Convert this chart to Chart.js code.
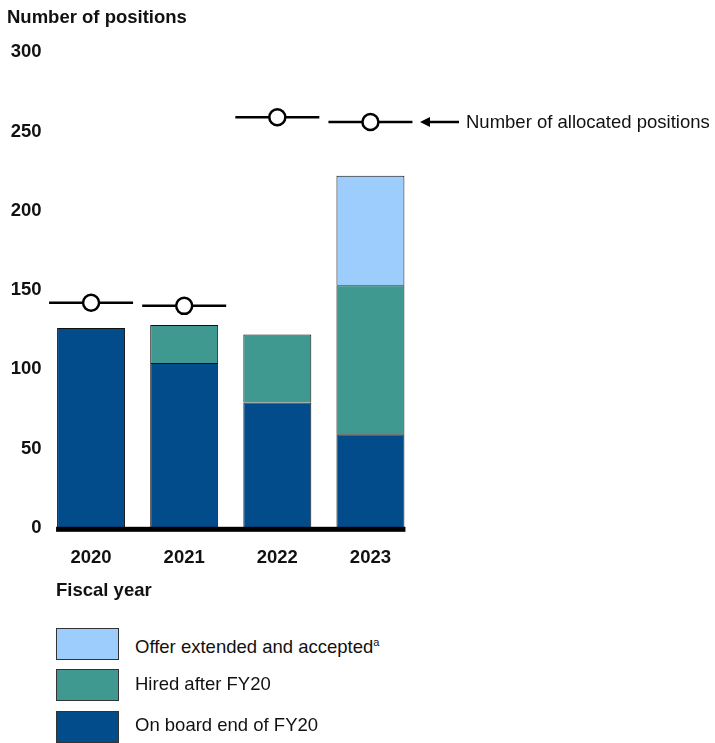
<!DOCTYPE html>
<html>
<head>
<meta charset="utf-8">
<script src="https://cdn.jsdelivr.net/npm/chart.js@4/dist/chart.umd.min.js"></script>
<style>
  body { margin: 0; background: #fff; font-family: "Liberation Sans", Arial, sans-serif; color: #111; }
  #wrap { position: relative; width: 715px; height: 743px; overflow: hidden; }
  #box { position: absolute; left: 0; top: 0; width: 715px; height: 588px; }
  .xtitle { position: absolute; left: 56px; top: 579px; font-weight: bold; font-size: 18.5px; }
  .leg { position: absolute; left: 56px; height: 32px; width: 63px; box-sizing: border-box; border: 1px solid #333; }
  .legtxt { position: absolute; left: 135px; font-size: 18.5px; line-height: 20px; }
  .legtxt sup { font-size: 11px; vertical-align: 7px; }
</style>
</head>
<body>
<div id="wrap">
  <div id="box"><canvas id="myChart"></canvas></div>
  <div class="xtitle">Fiscal year</div>
  <div class="leg" style="top:628px;background:#9ccdfc"></div>
  <div class="legtxt" style="top:632px">Offer extended and accepted<sup>a</sup></div>
  <div class="leg" style="top:669px;background:#3f9990"></div>
  <div class="legtxt" style="top:674px">Hired after FY20</div>
  <div class="leg" style="top:711px;background:#034c8c"></div>
  <div class="legtxt" style="top:715px">On board end of FY20</div>
</div>
<script>
// Data
var years = ['2020', '2021', '2022', '2023'];
var onBoard = [126, 104, 79, 59];
var hiredAfter = [0, 24, 43, 94];
var offerAccepted = [0, 0, 0, 69];
var allocated = [142, 140, 259, 256];
var yTicks = [0, 50, 100, 150, 200, 250, 300];

var font = 'Liberation Sans';

// thick baseline under the bars + arrow note for the allocated markers
var extras = {
    id: 'extras',
    afterDatasetsDraw: function(chart) {
        var ctx = chart.ctx;
        var bars = chart.getDatasetMeta(0).data;
        var first = bars[0], last = bars[bars.length - 1];
        var y0 = chart.scales.y.getPixelForValue(0);
        ctx.save();
        ctx.fillStyle = '#000';
        ctx.fillRect(first.x - first.width / 2 - 1, y0 - 1, (last.x + last.width / 2) - (first.x - first.width / 2) + 2, 5);

        // arrow pointing at the last marker
        var yA = chart.scales.y.getPixelForValue(allocated[allocated.length - 1]);
        var xStart = 459, xEnd = 420;
        ctx.strokeStyle = '#000';
        ctx.lineWidth = 2.5;
        ctx.beginPath();
        ctx.moveTo(xStart, yA);
        ctx.lineTo(xEnd + 6, yA);
        ctx.stroke();
        ctx.beginPath();
        ctx.moveTo(xEnd, yA);
        ctx.lineTo(xEnd + 10, yA - 5);
        ctx.lineTo(xEnd + 10, yA + 5);
        ctx.closePath();
        ctx.fill();
        ctx.fillStyle = '#111';
        ctx.font = '18.5px "' + font + '"';
        ctx.textBaseline = 'middle';
        ctx.textAlign = 'left';
        ctx.fillText('Number of allocated positions', 466, yA + 1);
        ctx.restore();
    }
};

var ctx = document.getElementById('myChart').getContext('2d');
var myChart = new Chart(ctx, {
    type: 'bar',
    data: {
        labels: years,
        datasets: [{
            label: 'On board end of FY20',
            data: onBoard,
            backgroundColor: '#034c8c',
            borderColor: '#111',
            borderWidth: 1,
            stack: 'bars'
        }, {
            label: 'Hired after FY20',
            data: hiredAfter,
            backgroundColor: '#3f9990',
            borderColor: '#111',
            borderWidth: 1,
            stack: 'bars'
        }, {
            label: 'Offer extended and accepted',
            data: offerAccepted,
            backgroundColor: '#9ccdfc',
            borderColor: '#111',
            borderWidth: 1,
            stack: 'bars'
        }, {
            type: 'line',
            label: 'Number of allocated positions',
            data: allocated,
            showLine: false,
            stack: 'circle',
            pointStyle: 'circle',
            pointRadius: 8,
            pointHoverRadius: 8,
            pointBackgroundColor: '#fff',
            pointBorderColor: '#000',
            pointBorderWidth: 2.5,
            order: -2
        }, {
            type: 'line',
            label: 'allocated bar',
            data: allocated,
            showLine: false,
            stack: 'dash',
            pointStyle: 'line',
            pointRadius: 42,
            pointHoverRadius: 42,
            pointBorderColor: '#000',
            pointBorderWidth: 2.5,
            order: -1
        }]
    },
    options: {
        responsive: true,
        maintainAspectRatio: false,
        animation: false,
        datasets: {
            bar: { barPercentage: 0.73, categoryPercentage: 1 }
        },
        layout: {
            padding: { left: 7, right: 298, top: 7, bottom: 0 }
        },
        plugins: {
            legend: { display: false },
            tooltip: { enabled: false },
            title: {
                display: true,
                text: 'Number of positions',
                align: 'start',
                color: '#111',
                font: { family: font, size: 18.5, weight: 'bold' },
                padding: { top: 0, bottom: 23 }
            }
        },
        scales: {
            x: {
                stacked: true,
                grid: { display: false, drawTicks: false },
                border: { display: false },
                ticks: {
                    color: '#111',
                    padding: 19,
                    font: { family: font, size: 18.5, weight: 'bold' }
                }
            },
            y: {
                stacked: true,
                min: 0,
                max: 300,
                afterBuildTicks: function(axis) {
                    axis.ticks = yTicks.map(function(v) { return { value: v }; });
                },
                grid: { display: false, drawTicks: false },
                border: { display: false },
                ticks: {
                    color: '#111',
                    padding: 3,
                    font: { family: font, size: 18.5, weight: 'bold' }
                }
            }
        }
    },
    plugins: [extras]
});
</script>
</body>
</html>
